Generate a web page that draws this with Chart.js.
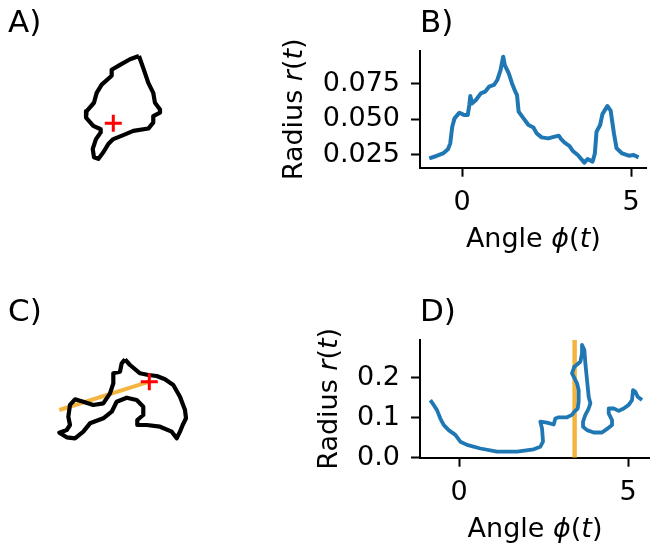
<!DOCTYPE html>
<html>
<head>
<meta charset="utf-8">
<script src="https://cdn.jsdelivr.net/npm/chart.js@4.4.0/dist/chart.umd.min.js"></script>
<style>
  body { margin: 0; background: #fff; }
  #fig { position: relative; width: 650px; height: 545px; overflow: hidden; }
  canvas { position: absolute; }
</style>
</head>
<body>
<div id="fig">
  <canvas id="panelA" width="250" height="201" style="left:8px;top:0px"></canvas>
  <canvas id="panelB" width="380" height="270" style="left:270px;top:0px"></canvas>
  <canvas id="panelC" width="250" height="201" style="left:8px;top:289px"></canvas>
  <canvas id="panelD" width="380" height="256" style="left:270px;top:289px"></canvas>
</div>
<script>
// panel titles
const panelTitles = ['A)', 'B)', 'C)', 'D)'];

// A) outline of the first shape, centre (red cross) at origin
const shapeAx = [0.0332, 0.0216, 0.0087, -0.0021, -0.0021, -0.0150, -0.0215, -0.0250, -0.0344, -0.0353, -0.0259, -0.0163, -0.0163, -0.0224, -0.0266, -0.0250, -0.0194, -0.0129, -0.0065, 0.0000, 0.0129, 0.0259, 0.0453, 0.0517, 0.0517, 0.0604, 0.0604, 0.0539, 0.0517, 0.0453, 0.0388];
const shapeAy = [0.0880, 0.0837, 0.0763, 0.0699, 0.0621, 0.0505, 0.0397, 0.0268, 0.0159, 0.0074, -0.0035, -0.0078, -0.0120, -0.0207, -0.0336, -0.0444, -0.0466, -0.0379, -0.0272, -0.0207, -0.0155, -0.0100, -0.0069, 0.0009, 0.0094, 0.0138, 0.0181, 0.0268, 0.0397, 0.0527, 0.0721];

// B) radius vs angle for shape A
const angleB = [-0.972, -0.758, -0.564, -0.418, -0.35, -0.292, -0.224, -0.078, 0.068, 0.165, 0.214, 0.243, 0.292, 0.408, 0.554, 0.68, 0.797, 0.943, 1.04, 1.137, 1.215, 1.263, 1.38, 1.477, 1.574, 1.623, 1.672, 1.817, 1.963, 2.109, 2.206, 2.352, 2.546, 2.741, 2.857, 2.935, 3.032, 3.178, 3.275, 3.421, 3.615, 3.712, 3.858, 3.926, 3.975, 4.082, 4.15, 4.295, 4.393, 4.49, 4.568, 4.733, 4.927, 5.073, 5.219];
const radiusB = [0.0224, 0.0241, 0.0259, 0.0288, 0.033, 0.0447, 0.0506, 0.0546, 0.0529, 0.0529, 0.06, 0.0663, 0.0611, 0.0635, 0.0682, 0.0694, 0.0729, 0.0741, 0.0776, 0.0846, 0.094, 0.0881, 0.0823, 0.0752, 0.0694, 0.067, 0.0553, 0.0506, 0.0459, 0.0442, 0.04, 0.0372, 0.0365, 0.0377, 0.0384, 0.0358, 0.0335, 0.0311, 0.0276, 0.0248, 0.0194, 0.022, 0.0201, 0.0259, 0.0412, 0.0459, 0.0536, 0.0593, 0.056, 0.04, 0.0295, 0.0259, 0.0243, 0.0248, 0.0231];

// C) outline of the second shape, centre at origin, plus the orange ray
const shapeCx = [-0.0683, -0.0542, -0.0261, -0.0028, 0.0208, 0.0441, 0.0674, 0.0862, 0.1003, 0.1031, 0.0938, 0.0862, 0.0770, 0.0629, 0.0301, -0.0073, -0.0337, -0.0337, -0.0169, -0.0169, -0.0354, -0.0635, -0.0916, -0.1056, -0.1292, -0.1666, -0.1854, -0.2087, -0.2320, -0.2528, -0.2320, -0.2228, -0.2275, -0.2228, -0.2087, -0.1854, -0.1573, -0.1292, -0.1104, -0.1011, -0.1011, -0.0823, -0.0775];
const shapeCy = [0.0629, 0.0469, 0.0236, 0.0188, 0.0160, 0.0067, -0.0093, -0.0421, -0.0795, -0.1028, -0.1216, -0.1404, -0.1590, -0.1404, -0.1264, -0.1216, -0.1216, -0.1076, -0.0935, -0.0702, -0.0514, -0.0449, -0.0562, -0.0843, -0.1028, -0.1169, -0.1404, -0.1590, -0.1562, -0.1433, -0.1357, -0.1216, -0.0983, -0.0654, -0.0494, -0.0562, -0.0654, -0.0607, -0.0326, -0.0045, 0.0236, 0.0281, 0.0517];
const rayCx = [-0.2528, 0.0];
const rayCy = [-0.0795, 0.0];

// D) radius vs angle for shape C
const angleD = [-0.848, -0.75, -0.651, -0.552, -0.454, -0.306, -0.108, 0.039, 0.237, 0.631, 1.124, 1.716, 2.209, 2.406, 2.485, 2.456, 2.406, 2.604, 2.801, 2.85, 2.949, 3.195, 3.343, 3.412, 3.511, 3.54, 3.54, 3.491, 3.393, 3.343, 3.412, 3.59, 3.639, 3.639, 3.708, 3.738, 3.787, 3.836, 3.886, 3.836, 3.738, 3.669, 3.669, 3.787, 3.984, 4.231, 4.379, 4.527, 4.527, 4.428, 4.428, 4.576, 4.724, 4.872, 5.02, 5.118, 5.148, 5.217, 5.286, 5.414];
const radiusD = [0.144, 0.132, 0.119, 0.098, 0.082, 0.069, 0.057, 0.04, 0.032, 0.023, 0.015, 0.015, 0.021, 0.0275, 0.04, 0.073, 0.09, 0.0875, 0.083, 0.098, 0.101, 0.101, 0.107, 0.115, 0.123, 0.14, 0.169, 0.186, 0.2025, 0.211, 0.2275, 0.24, 0.261, 0.282, 0.269, 0.236, 0.194, 0.1525, 0.136, 0.123, 0.107, 0.09, 0.0775, 0.069, 0.063, 0.063, 0.072, 0.082, 0.094, 0.111, 0.123, 0.123, 0.117, 0.123, 0.132, 0.144, 0.169, 0.165, 0.1525, 0.144];
const rayAngleD = 3.42;

// ticks
const angleTicks = [0, 5];
const radiusTicksB = [0.025, 0.05, 0.075];
const radiusTicksD = [0.0, 0.1, 0.2];

const xLabelParts = [['Angle ', false], ['\u03d5', true], ['(', false], ['t', true], [')', false]];
const yLabelParts = [['Radius ', false], ['r', true], ['(', false], ['t', true], [')', false]];

const FONT_SIZE = 27;

Chart.defaults.font.family = "'DejaVu Sans', sans-serif";
Chart.defaults.font.size = FONT_SIZE;
Chart.defaults.color = '#000';
Chart.defaults.animation = false;

const BLUE = '#1f77b4';
const ORANGE = '#f3b540';

function pts(xs, ys) {
    return xs.map((x, i) => ({ x: x, y: ys[i] }));
}

function closed(xs, ys) {
    return pts(xs.concat(xs[0]), ys.concat(ys[0]));
}

function drawParts(ctx, parts, size) {
    let total = 0;
    parts.forEach(p => {
        ctx.font = (p[1] ? 'italic ' : '') + size + "px 'DejaVu Sans'";
        total += ctx.measureText(p[0]).width;
    });
    let x = -total / 2;
    parts.forEach(p => {
        ctx.font = (p[1] ? 'italic ' : '') + size + "px 'DejaVu Sans'";
        ctx.fillText(p[0], x, 0);
        x += ctx.measureText(p[0]).width;
    });
}

// axis labels with italic math parts
const axisLabels = {
    id: 'axisLabels',
    afterDraw(chart, args, opts) {
        if (!opts.show) return;
        const ctx = chart.ctx;
        const area = chart.chartArea;
        ctx.save();
        ctx.fillStyle = '#000';
        ctx.textAlign = 'left';
        ctx.textBaseline = 'alphabetic';
        ctx.translate((area.left + area.right) / 2, area.bottom + opts.xGap);
        drawParts(ctx, xLabelParts, FONT_SIZE);
        ctx.restore();

        ctx.save();
        ctx.fillStyle = '#000';
        ctx.textAlign = 'left';
        ctx.textBaseline = 'alphabetic';
        ctx.translate(area.left - opts.yGap, (area.top + area.bottom) / 2);
        ctx.rotate(-Math.PI / 2);
        drawParts(ctx, yLabelParts, FONT_SIZE);
        ctx.restore();
    }
};

function titleOpts(text) {
    return {
        display: true,
        text: text,
        align: 'start',
        fullSize: false,
        color: '#000',
        font: { size: 31, weight: 'normal' },
        padding: { top: 5, bottom: 8.8 }
    };
}

function shapeChart(id, title, datasets, xRange, yRange) {
    return new Chart(document.getElementById(id), {
        type: 'scatter',
        data: { datasets: datasets },
        options: {
            responsive: false,
            events: [],
            layout: { padding: 0, autoPadding: false },
            plugins: {
                legend: { display: false },
                tooltip: { enabled: false },
                title: titleOpts(title),
                axisLabels: { show: false }
            },
            scales: {
                x: { display: false, min: xRange[0], max: xRange[1] },
                y: { display: false, min: yRange[0], max: yRange[1] }
            }
        },
        plugins: [axisLabels]
    });
}

function axisStyle() {
    return {
        border: { display: true, color: '#000', width: 2 },
        grid: { display: true, drawOnChartArea: false, drawTicks: true, tickLength: 9, tickWidth: 2, tickColor: '#000', color: '#000' }
    };
}

function radiusChart(id, title, datasets, xRange, yRange, yTicks, digits, xHeight, yGap) {
    return new Chart(document.getElementById(id), {
        type: 'scatter',
        data: { datasets: datasets },
        options: {
            responsive: false,
            events: [],
            layout: { padding: 0, autoPadding: false },
            plugins: {
                legend: { display: false },
                tooltip: { enabled: false },
                title: titleOpts(title),
                axisLabels: { show: true, xGap: 79.6, yGap: yGap }
            },
            scales: {
                x: Object.assign(axisStyle(), {
                    min: xRange[0],
                    max: xRange[1],
                    afterBuildTicks: s => { s.ticks = angleTicks.map(v => ({ value: v })); },
                    afterFit: s => { s.height = xHeight; },
                    ticks: { padding: 10, maxRotation: 0, callback: v => String(v) }
                }),
                y: Object.assign(axisStyle(), {
                    min: yRange[0],
                    max: yRange[1],
                    afterBuildTicks: s => { s.ticks = yTicks.map(v => ({ value: v })); },
                    afterFit: s => { s.width = 150; },
                    ticks: { padding: 11, callback: v => Number(v).toFixed(digits) }
                })
            }
        },
        plugins: [axisLabels]
    });
}

const cross = {
    data: [{ x: 0, y: 0 }],
    pointStyle: 'cross',
    pointRadius: 8.5,
    pointBorderWidth: 3,
    pointBorderColor: 'red',
    pointBackgroundColor: 'red',
    showLine: false
};

function line(data, color, width) {
    return {
        data: data,
        showLine: true,
        borderColor: color,
        borderWidth: width,
        borderJoinStyle: 'round',
        pointRadius: 0,
        tension: 0,
        fill: false
    };
}

shapeChart('panelA', panelTitles[0],
    [cross, line(closed(shapeAx, shapeAy), '#000', 4.2)],
    [-0.13622, 0.18720], [-0.10161, 0.09444]);

radiusChart('panelB', panelTitles[1],
    [line(pts(angleB, radiusB), BLUE, 4)],
    [-1.245, 5.457], [0.01585, 0.09803], radiusTicksB, 3, 102.3, 118.3);

shapeChart('panelC', panelTitles[2],
    [Object.assign({}, cross), line(closed(shapeCx, shapeCy), '#000', 4.2), line(pts(rayCx, rayCy), ORANGE, 4)],
    [-0.39691, 0.30534], [-0.30422, 0.11713]);

radiusChart('panelD', panelTitles[3],
    [line(pts(angleD, radiusD), BLUE, 3.8), line(pts([rayAngleD, rayAngleD], [0, 0.2943]), ORANGE, 4.5)],
    [-1.154, 5.65], [0, 0.2943], radiusTicksD, 1, 87.3, 83);
</script>
</body>
</html>
